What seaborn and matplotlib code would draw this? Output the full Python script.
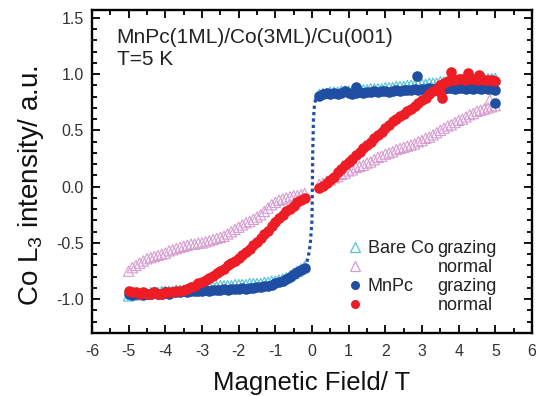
import numpy as np
import pandas as pd
import matplotlib
matplotlib.use("Agg")
import matplotlib.pyplot as plt
from matplotlib.lines import Line2D
from matplotlib.ticker import MultipleLocator
import seaborn as sns

# ---------------- data ----------------
field_neg = [-5.0, -4.9, -4.8, -4.7, -4.6, -4.5, -4.4, -4.3, -4.2, -4.1,
             -4.0, -3.9, -3.8, -3.7, -3.6, -3.5, -3.4, -3.3, -3.2, -3.1,
             -3.0, -2.9, -2.8, -2.7, -2.6, -2.5, -2.4, -2.3, -2.2, -2.1,
             -2.0, -1.9, -1.8, -1.7, -1.6, -1.5, -1.4, -1.3, -1.2, -1.1,
             -1.0, -0.9, -0.8, -0.7, -0.6, -0.5, -0.4, -0.3, -0.2]
field_pos = [0.2, 0.3, 0.4, 0.5, 0.6, 0.7, 0.8, 0.9, 1.0, 1.1,
             1.2, 1.3, 1.4, 1.5, 1.6, 1.7, 1.8, 1.9, 2.0, 2.1,
             2.2, 2.3, 2.4, 2.5, 2.6, 2.7, 2.8, 2.9, 3.0, 3.1,
             3.2, 3.3, 3.4, 3.5, 3.6, 3.7, 3.8, 3.9, 4.0, 4.1,
             4.2, 4.3, 4.4, 4.5, 4.6, 4.7, 4.8, 4.9, 5.0]

# Bare Co, grazing
bare_grazing_neg = [-0.97, -0.96, -0.96, -0.95, -0.95, -0.95, -0.94, -0.94, -0.94, -0.93,
                    -0.93, -0.93, -0.93, -0.92, -0.92, -0.92, -0.91, -0.91, -0.91, -0.90,
                    -0.90, -0.90, -0.89, -0.89, -0.89, -0.88, -0.88, -0.88, -0.88, -0.87,
                    -0.87, -0.87, -0.87, -0.86, -0.86, -0.86, -0.86, -0.85, -0.85, -0.84,
                    -0.84, -0.83, -0.82, -0.81, -0.79, -0.77, -0.75, -0.73, -0.71]
bare_grazing_pos = [0.82, 0.83, 0.83, 0.84, 0.84, 0.84, 0.85, 0.85, 0.85, 0.85,
                    0.86, 0.86, 0.86, 0.86, 0.87, 0.87, 0.87, 0.87, 0.88, 0.88,
                    0.88, 0.89, 0.89, 0.89, 0.90, 0.90, 0.90, 0.91, 0.91, 0.91,
                    0.92, 0.92, 0.92, 0.93, 0.93, 0.93, 0.94, 0.94, 0.94, 0.94,
                    0.95, 0.95, 0.95, 0.95, 0.95, 0.96, 0.96, 0.96, 0.96]

# Bare Co, normal
bare_normal_neg = [-0.75, -0.72, -0.70, -0.68, -0.66, -0.64, -0.63, -0.62, -0.61, -0.60,
                   -0.59, -0.57, -0.56, -0.55, -0.54, -0.53, -0.52, -0.51, -0.51, -0.50,
                   -0.50, -0.49, -0.48, -0.47, -0.46, -0.45, -0.44, -0.42, -0.40, -0.38,
                   -0.36, -0.34, -0.32, -0.31, -0.29, -0.27, -0.25, -0.22, -0.19, -0.16,
                   -0.14, -0.12, -0.11, -0.10, -0.09, -0.08, -0.08, -0.07, -0.06]
bare_normal_pos = [0.02, 0.03, 0.05, 0.06, 0.08, 0.09, 0.11, 0.12, 0.14, 0.15,
                   0.17, 0.18, 0.19, 0.21, 0.22, 0.24, 0.26, 0.27, 0.29, 0.30,
                   0.31, 0.33, 0.34, 0.35, 0.36, 0.37, 0.38, 0.40, 0.41, 0.43,
                   0.44, 0.46, 0.48, 0.50, 0.52, 0.54, 0.55, 0.57, 0.59, 0.60,
                   0.62, 0.64, 0.65, 0.67, 0.68, 0.69, 0.70, 0.71, 0.72]
bare_normal_extra_x = [4.85]
bare_normal_extra_y = [0.77]

# MnPc, grazing
mnpc_grazing_neg = [-0.95, -0.96, -0.95, -0.95, -0.96, -0.95, -0.95, -0.94, -0.95, -0.95,
                    -0.94, -0.95, -0.94, -0.94, -0.94, -0.93, -0.94, -0.93, -0.93, -0.93,
                    -0.93, -0.92, -0.93, -0.92, -0.92, -0.92, -0.91, -0.92, -0.91, -0.91,
                    -0.91, -0.90, -0.91, -0.90, -0.90, -0.89, -0.89, -0.88, -0.88, -0.87,
                    -0.86, -0.85, -0.84, -0.82, -0.80, -0.78, -0.76, -0.74, -0.72]
mnpc_grazing_pos = [0.81, 0.82, 0.83, 0.82, 0.83, 0.82, 0.83, 0.85, 0.83, 0.82,
                    0.83, 0.84, 0.83, 0.84, 0.84, 0.85, 0.84, 0.85, 0.85, 0.84,
                    0.85, 0.86, 0.85, 0.86, 0.86, 0.86, 0.87, 0.86, 0.87, 0.87,
                    0.88, 0.87, 0.88, 0.88, 0.87, 0.88, 0.88, 0.87, 0.88, 0.88,
                    0.87, 0.88, 0.87, 0.88, 0.87, 0.88, 0.87, 0.87, 0.86]
mnpc_grazing_extra_x = [1.2, 2.85, 5.0]
mnpc_grazing_extra_y = [0.89, 0.98, 0.74]

# MnPc, normal
mnpc_normal_neg = [-0.93, -0.94, -0.94, -0.95, -0.94, -0.95, -0.95, -0.94, -0.95, -0.95,
                   -0.94, -0.94, -0.94, -0.93, -0.93, -0.92, -0.91, -0.89, -0.88, -0.86,
                   -0.85, -0.83, -0.81, -0.79, -0.77, -0.75, -0.73, -0.70, -0.68, -0.66,
                   -0.63, -0.61, -0.58, -0.55, -0.52, -0.49, -0.46, -0.42, -0.39, -0.35,
                   -0.31, -0.28, -0.25, -0.22, -0.20, -0.17, -0.14, -0.12, -0.10]
mnpc_normal_pos = [-0.01, 0.01, 0.03, 0.06, 0.09, 0.13, 0.16, 0.19, 0.22, 0.25,
                   0.28, 0.31, 0.34, 0.37, 0.40, 0.43, 0.46, 0.49, 0.52, 0.55,
                   0.58, 0.60, 0.63, 0.65, 0.67, 0.69, 0.72, 0.74, 0.77, 0.79,
                   0.82, 0.85, 0.87, 0.90, 0.92, 0.94, 0.95, 0.95, 0.96, 0.96,
                   0.95, 0.96, 0.96, 0.95, 0.96, 0.95, 0.95, 0.95, 0.94]
mnpc_normal_extra_x = [3.5, 3.55, 3.8, 4.25, 4.55]
mnpc_normal_extra_y = [0.84, 0.79, 1.02, 1.01, 0.99]

# dotted guide line for the grazing loop
guide_x = [-0.2, -0.15, -0.1, -0.05, 0.0, 0.01, 0.02, 0.04, 0.07, 0.12, 0.2, 0.3]
guide_y = [-0.72, -0.68, -0.62, -0.52, -0.30, 0.0, 0.30, 0.60, 0.74, 0.79, 0.81, 0.82]

legend_groups = ["Bare Co", "", "MnPc", ""]
legend_geom = ["grazing", "normal", "grazing", "normal"]

# ---------------- style ----------------
sns.set_style("ticks")
plt.rcParams["font.family"] = ["Liberation Sans", "DejaVu Sans"]
plt.rcParams["axes.unicode_minus"] = False
plt.rcParams["mathtext.fontset"] = "custom"
plt.rcParams["mathtext.rm"] = "Liberation Sans"
plt.rcParams["mathtext.it"] = "Liberation Sans"

c_cyan = "#52c3d8"
c_pink = "#d79bd2"
c_blue = "#1f4ea3"
c_red = "#ee1c25"

fig = plt.figure(figsize=(5.43, 3.96), dpi=100)
ax = fig.add_axes([92 / 543, 1 - 333 / 396, 440 / 543, 323 / 396])

def frame(xs, ys):
    return pd.DataFrame({"field": xs, "intensity": ys})

tri_kw = dict(marker="^", s=55, facecolor="none", linewidth=0.8, legend=False, ax=ax)
dot_kw = dict(marker="o", s=58, linewidth=0, legend=False, ax=ax)

# Bare Co grazing (cyan, open triangles)
for xs, ys in [(field_neg, bare_grazing_neg), (field_pos, bare_grazing_pos)]:
    sns.scatterplot(data=frame(xs, ys), x="field", y="intensity", edgecolor=c_cyan, **tri_kw)
# Bare Co normal (pink, open triangles)
for xs, ys in [(field_neg, bare_normal_neg), (field_pos, bare_normal_pos),
               (bare_normal_extra_x, bare_normal_extra_y)]:
    sns.scatterplot(data=frame(xs, ys), x="field", y="intensity", edgecolor=c_pink, **tri_kw)
# MnPc grazing (blue dots)
for xs, ys in [(field_neg, mnpc_grazing_neg), (field_pos, mnpc_grazing_pos),
               (mnpc_grazing_extra_x, mnpc_grazing_extra_y)]:
    sns.scatterplot(data=frame(xs, ys), x="field", y="intensity", color=c_blue, **dot_kw)
# dotted guide
sns.lineplot(data=frame(guide_x, guide_y), x="field", y="intensity", sort=False,
             color=c_blue, linewidth=2.3, linestyle=(0, (1, 1)), ax=ax, legend=False)
# MnPc normal (red dots)
for xs, ys in [(field_neg, mnpc_normal_neg), (field_pos, mnpc_normal_pos),
               (mnpc_normal_extra_x, mnpc_normal_extra_y)]:
    sns.scatterplot(data=frame(xs, ys), x="field", y="intensity", color=c_red, **dot_kw)

ax.set_xlim(-6, 6)
ax.set_ylim(-1.3, 1.57)
ax.xaxis.set_major_locator(MultipleLocator(1))
ax.xaxis.set_minor_locator(MultipleLocator(0.5))
ax.yaxis.set_major_locator(MultipleLocator(0.5))
ax.yaxis.set_minor_locator(MultipleLocator(0.1))
ax.yaxis.set_major_formatter(matplotlib.ticker.FormatStrFormatter("%.1f"))
ax.tick_params(which="both", direction="in", top=True, right=True, colors="black",
               labelcolor="#333333", labelsize=11.5, width=1.3)
ax.tick_params(which="major", length=6)
ax.tick_params(which="minor", length=3.5)
ax.tick_params(axis="x", pad=8)
ax.tick_params(axis="y", pad=6)
for sp in ax.spines.values():
    sp.set_linewidth(1.7)
    sp.set_color("black")

ax.set_xlabel("Magnetic Field/ T", fontsize=18.5, color="#111111")
ax.set_ylabel("Co L$_3$ intensity/ a.u.", fontsize=20, color="#111111")
ax.xaxis.set_label_coords(0.5, -0.118)
ax.yaxis.set_label_coords(-0.105, 0.458)

ax.text(0.056, 0.898, "MnPc(1ML)/Co(3ML)/Cu(001)", transform=ax.transAxes,
        fontsize=15, color="#222222", va="baseline", ha="left")
ax.text(0.056, 0.830, "T=5 K", transform=ax.transAxes,
        fontsize=15, color="#222222", va="baseline", ha="left")

# legend: markers + group column, then geometry column
handles = [
    Line2D([], [], linestyle="none", marker="^", markersize=6.5, markerfacecolor="none",
           markeredgecolor=c_cyan, markeredgewidth=0.9),
    Line2D([], [], linestyle="none", marker="^", markersize=6.5, markerfacecolor="none",
           markeredgecolor=c_pink, markeredgewidth=0.9),
    Line2D([], [], linestyle="none", marker="o", markersize=5.5, color=c_blue),
    Line2D([], [], linestyle="none", marker="o", markersize=5.5, color=c_red),
]
blank = [Line2D([], [], linestyle="none") for _ in range(4)]
leg = ax.legend(handles + blank, legend_groups + legend_geom, ncol=2,
                loc="upper left", bbox_to_anchor=(0.581, 0.288), frameon=False,
                fontsize=13, handlelength=0.8, handletextpad=0.3,
                columnspacing=-0.88, labelspacing=0.12, borderpad=0, borderaxespad=0)
for t in leg.get_texts():
    t.set_color("#222222")

fig.savefig("out.png", dpi=100)
